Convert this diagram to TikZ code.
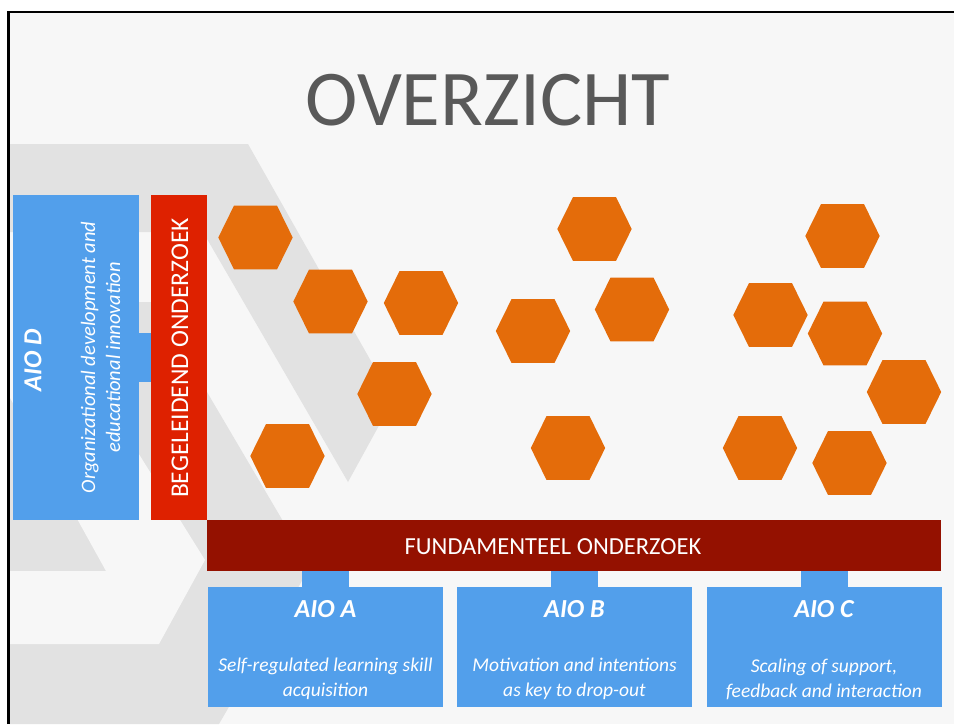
\documentclass[tikz,border=0pt]{standalone}
\usepackage{fontspec}
\setmainfont{Carlito}
\usetikzlibrary{positioning}

\definecolor{slidebg}{RGB}{247,247,247}
\definecolor{chevgray}{RGB}{226,226,226}
\definecolor{aioblue}{RGB}{82,159,235}
\definecolor{begred}{RGB}{222,33,0}
\definecolor{fundred}{RGB}{148,17,0}
\definecolor{hexorange}{RGB}{228,108,10}
\definecolor{titlegray}{RGB}{89,89,89}

\begin{document}
\begin{tikzpicture}
[
x=1pt, y=-1pt,
aiobox/.style={rectangle, fill=aioblue, inner sep=0, outer sep=0},
barbox/.style={rectangle, inner sep=0, outer sep=0},
bartext/.style={text=white, inner sep=0, font=\fontsize{24.5}{27}\selectfont},
aiotitle/.style={text=white, inner sep=0, font=\bfseries\itshape\fontsize{26}{30}\selectfont},
aiotext/.style={text=white, inner sep=0, align=center, font=\itshape\fontsize{19.5}{25}\selectfont},
stub/.style={draw=aioblue, line width=47pt},
hexa/.style={fill=hexorange}
]
\useasboundingbox (0,0) rectangle (954,724);
\fill[white] (0,0) rectangle (954,724);
\fill[slidebg] (9,12) rectangle (954,724);

% background chevrons
\fill[chevgray] (9,144) -- (248,144) -- (393,400) -- (348,482) -- (203,232) -- (9,232) -- cycle;
\fill[chevgray] (9,302) -- (154,302) -- (310,567) -- (219,724) -- (9,724) -- cycle;
\fill[slidebg] (9,302) -- (44,302) -- (205,560) -- (159,644) -- (9,644) -- (9,571)
  -- (106,571) -- (9,396) -- cycle;
\draw[line width=2.5pt] (8.7,724) -- (8.7,12.2) -- (954,12.2);

\node[font=\fontsize{79}{84}\selectfont, text=titlegray, inner sep=0] (title) at (488,100.5) {OVERZICHT};

% hexagons
\foreach \hx/\hy in {255.5/237.5, 330.5/301.5, 421/303, 394.5/394, 287.5/456,
                     594.5/229, 632/309.5, 533/331, 568/448,
                     842.5/236, 770.5/315, 845/333.5, 904/392, 760/448, 849.5/463}
  \fill[hexa] (\hx,\hy) +(-37.2,0) -- +(-21.5,-31.9) -- +(21.5,-31.9) -- +(37.2,0)
    -- +(21.5,31.9) -- +(-21.5,31.9) -- cycle;

% left column
\node[aiobox, minimum width=126pt, minimum height=325pt] (aioD) at (76,357.5) {};
\node[barbox, fill=begred, minimum width=56pt, minimum height=325pt] (beg) at (179,357.5) {};
\draw[stub, line width=49pt] (aioD.east) -- (beg.west);
\node[aiotitle, rotate=90] (aioDt) at (33,360) {AIO D};
\node[aiotext, rotate=90, font=\itshape\fontsize{20.5}{25}\selectfont] (aioDd) at (100.5,357.5) {Organizational development and\\educational innovation};
\node[bartext, rotate=90, font=\fontsize{25.5}{28}\selectfont] (begt) at (180,358) {BEGELEIDEND ONDERZOEK};

% bottom row
\node[barbox, fill=fundred, minimum width=734pt, minimum height=51pt] (fund) at (574,545.5) {};
\node[bartext] (fundt) at (553,547) {FUNDAMENTEEL ONDERZOEK};

\node[aiobox, minimum width=235pt, minimum height=120pt] (aioA) at (325.5,647) {};
\node[aiobox, minimum width=235pt, minimum height=120pt] (aioB) at (574.5,647) {};
\node[aiobox, minimum width=235pt, minimum height=120pt] (aioC) at (824,647) {};
\draw[stub] (aioA.north |- fund.south) -- (aioA.north);
\draw[stub] (aioB.north |- fund.south) -- (aioB.north);
\draw[stub] (aioC.north |- fund.south) -- (aioC.north);

\node[aiotitle] (aioAt) at (325.5,609) {AIO A};
\node[aiotitle] (aioBt) at (574.5,609) {AIO B};
\node[aiotitle] (aioCt) at (824,609) {AIO C};
\node[aiotext] (aioAd) at (325.5,679) {Self-regulated learning skill\\acquisition};
\node[aiotext] (aioBd) at (574.5,679) {Motivation and intentions\\as key to drop-out};
\node[aiotext] (aioCd) at (824,679) {Scaling of support,\\feedback and interaction};
\end{tikzpicture}
\end{document}
